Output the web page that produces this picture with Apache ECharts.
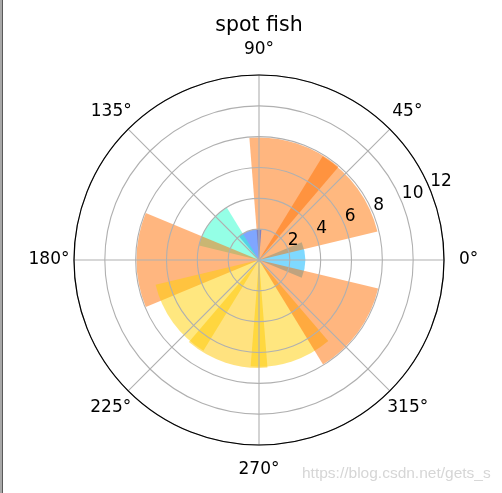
<!DOCTYPE html>
<html>
<head>
<meta charset="utf-8">
<script src="https://cdn.jsdelivr.net/npm/echarts@6/dist/echarts.min.js"></script>
<style>
html,body{margin:0;padding:0;background:#fff;}
#c{width:502px;height:493px;}
</style>
</head>
<body>
<div id="c"></div>
<script>
// bar centres (degrees), widths (degrees), radii and face colours (drawn at alpha 0.5)
var thetaDeg = [0, 36, 72, 108, 144, 180, 216, 252, 288, 324];
var widthDeg = [45, 45, 45, 45, 45, 45, 45, 45, 45, 45];
var radii    = [3.0, 7.9, 7.95, 2.0, 4.0, 7.95, 6.9, 7.0, 6.92, 7.95];
var colors   = ['#00B3FF', '#FF7100', '#FF6D00', '#004DFF', '#29FFCE',
                '#FF6D00', '#FFD000', '#FFC600', '#FFCE00', '#FF6D00'];
var angleTicks = [0, 45, 90, 135, 180, 225, 270, 315];
var radiusTicks = [2, 4, 6, 8, 10, 12];

var data = thetaDeg.map(function (t, i) { return [radii[i], t, widthDeg[i]]; });

var chart = echarts.init(document.getElementById('c'), null, {renderer: 'canvas'});
var FONT = 'DejaVu Sans';

function renderBar(params, api) {
  var r = api.value(0), th = api.value(1), w = api.value(2);
  var c = api.coord([0, th]);
  var p1 = api.coord([r, th - w / 2]);
  var p2 = api.coord([r, th + w / 2]);
  var cx = c[0], cy = c[1];
  var rad = Math.sqrt((p1[0] - cx) * (p1[0] - cx) + (p1[1] - cy) * (p1[1] - cy));
  var a1 = Math.atan2(p1[1] - cy, p1[0] - cx);
  var a2 = Math.atan2(p2[1] - cy, p2[0] - cx);
  var start = a2, end = a1;
  if (end < start) end += Math.PI * 2;
  return {
    type: 'sector',
    shape: {cx: cx, cy: cy, r0: 0, r: rad, startAngle: start, endAngle: end, clockwise: true},
    style: {fill: colors[params.dataIndex], opacity: 0.5}
  };
}

// per-label spacing so each angle label is centred on a circle outside the plot (matplotlib style)
function lab(lh, pad) {
  return {padding: pad, fontFamily: FONT, fontSize: 17, lineHeight: lh, color: '#000'};
}
var angleRich = {
  a0:   lab(17, [0, 0, 0, 20]),
  a45:  lab(41.5, [0, 0, 0, 6]),
  a90:  lab(60, [0, 0, 0, 0]),
  a135: lab(41.5, [0, 0, 0, 0]),
  a180: lab(17, [0, 9.5, 0, 0]),
  a225: lab(41.5, [0, 0.5, 0, 0]),
  a270: lab(60, [0, 0, 0, 0]),
  a315: lab(41.5, [0, 0, 0, 1])
};

var option = {
  animation: false,
  backgroundColor: '#fff',
  polar: [
    {center: [259, 260], radius: 185},
    {center: [259, 260], radius: 185}
  ],
  angleAxis: [
    {
      polarIndex: 0, type: 'value', min: 0, max: 360, interval: 45,
      startAngle: 0, clockwise: false, z: 4,
      axisLine: {show: true, lineStyle: {color: '#000', width: 1.2}},
      axisTick: {show: false},
      axisLabel: {
        margin: -5, fontFamily: FONT, fontSize: 17, color: '#000',
        rich: angleRich,
        formatter: function (v) {
          return angleTicks.indexOf(v) >= 0 ? '{a' + v + '|' + v + '°}' : '';
        }
      },
      splitLine: {show: true, lineStyle: {color: '#b0b0b0', width: 1.1}}
    },
    {
      polarIndex: 1, type: 'value', min: 0, max: 360, interval: 45,
      startAngle: 22.5, clockwise: false,
      axisLine: {show: false}, axisTick: {show: false},
      axisLabel: {show: false}, splitLine: {show: false}
    }
  ],
  radiusAxis: [
    {
      polarIndex: 0, type: 'value', min: 0, max: 12, interval: 2, z: 3,
      axisLine: {show: false}, axisTick: {show: false}, axisLabel: {show: false},
      splitLine: {show: true, lineStyle: {color: '#b0b0b0', width: 1.1}}
    },
    {
      polarIndex: 1, type: 'value', min: 0, max: 12, interval: 2, z: 5,
      axisLine: {show: false}, axisTick: {show: false}, splitLine: {show: false},
      axisLabel: {
        margin: -1, align: 'left', verticalAlign: 'bottom',
        fontFamily: FONT, fontSize: 17, color: '#000',
        formatter: function (v) { return radiusTicks.indexOf(v) >= 0 ? String(v) : ''; }
      }
    }
  ],
  series: [{
    type: 'custom',
    coordinateSystem: 'polar',
    polarIndex: 0,
    z: 2,
    renderItem: renderBar,
    data: data
  }],
  graphic: [
    {
      type: 'text', z: 10,
      style: {text: 'spot fish', x: 259, y: 25.5, align: 'center', verticalAlign: 'middle',
              font: '20.5px "DejaVu Sans"', fill: '#000'}
    },
    {type: 'rect', left: 0, top: 0, shape: {width: 3, height: 493}, style: {fill: '#a8a8a8'}},
    {type: 'rect', left: 2, top: 0, shape: {width: 1, height: 493}, style: {fill: '#5a5a5a'}},
    {
      type: 'text', left: 302, top: 466,
      style: {text: 'https://blog.csdn.net/gets_s', fill: '#d6d6d6',
              font: '15.5px "Liberation Sans", Arial, sans-serif'}
    }
  ]
};
chart.setOption(option);
</script>
</body>
</html>
